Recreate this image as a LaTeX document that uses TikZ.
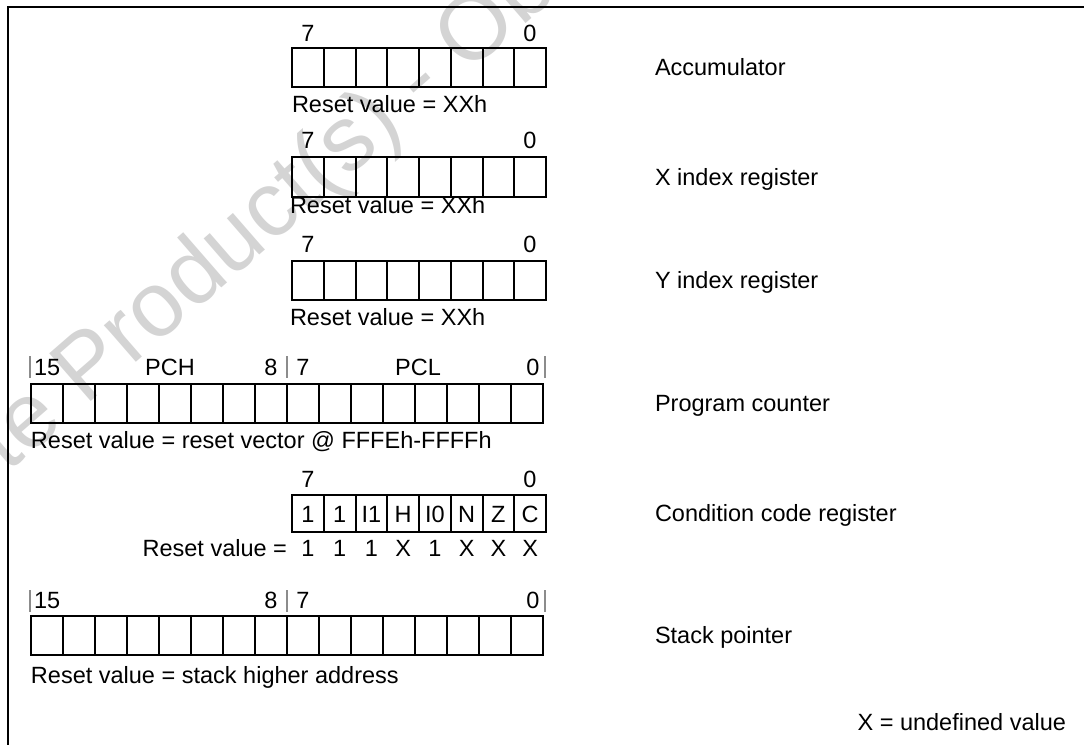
\documentclass[tikz,border=0pt]{standalone}
\usepackage{fontspec}
\setmainfont{Liberation Sans}
\begin{document}
\begin{tikzpicture}[x=0.5pt,y=-0.5pt,
  every node/.style={font=\fontsize{11.75}{14}\selectfont, inner sep=0pt, outer sep=0pt},
  lbl/.style={anchor=base},
  lblw/.style={anchor=base west},
  cellline/.style={draw=black, line width=1pt},
  tick/.style={draw=black!45, line width=0.9pt},
  frameline/.style={draw=black, line width=0.75pt},
  wm/.style={text=black!17, font=\fontsize{46}{50}\selectfont}]
\useasboundingbox (0,0) rectangle (1084,745);
\clip (0,0) rectangle (1084,745);
% watermark
\node[wm, rotate=41, anchor=base west] (wmark) at (-212,665) {Obsolete Product(s) - Obsolete Product(s)};
% frame
\draw[frameline] (8,760) -- (8,7) -- (1100,7);
% ---------- Accumulator
\foreach \i in {0,...,7} \draw[cellline] (292+\i*31.75,48) rectangle ++(31.75,39);
\node[lbl] (acc7) at (308,41.5) {7};
\node[lbl] (acc0) at (530,41.5) {0};
\node[lblw] (accR) at (292,112.5) {Reset value = XXh};
\node[lblw] (accN) at (655,75.5) {Accumulator};
% ---------- X index
\foreach \i in {0,...,7} \draw[cellline] (292+\i*31.75,157) rectangle ++(31.75,40);
\node[lbl] (x7) at (308,148.5) {7};
\node[lbl] (x0) at (530,148.5) {0};
\node[lblw] (xR) at (290,213.5) {Reset value = XXh};
\node[lblw] (xN) at (655,185.5) {X index register};
% ---------- Y index
\foreach \i in {0,...,7} \draw[cellline] (292+\i*31.75,261) rectangle ++(31.75,39);
\node[lbl] (y7) at (308,252.5) {7};
\node[lbl] (y0) at (530,252.5) {0};
\node[lblw] (yR) at (290,325.5) {Reset value = XXh};
\node[lblw] (yN) at (655,288.5) {Y index register};
% ---------- Program counter
\draw[tick] (30,356) -- (30,378);
\draw[tick] (287,356) -- (287,378);
\draw[tick] (545,356) -- (545,378);
\node[lblw] (pc15) at (34,375) {15};
\node[lbl] (pch) at (170,375) {PCH};
\node[lbl] (pc8) at (271,375) {8};
\node[lbl] (pc7) at (303,375) {7};
\node[lbl] (pcl) at (418,375) {PCL};
\node[lbl] (pc0) at (533,375) {0};
\foreach \i in {0,...,15} \draw[cellline] (31+\i*32,384) rectangle ++(32,39);
\node[lblw] (pcR) at (31,448) {Reset value = reset vector @ FFFEh-FFFFh};
\node[lblw] (pcN) at (655,411.5) {Program counter};
% ---------- Condition code register
\node[lbl] (cc7) at (308,487.5) {7};
\node[lbl] (cc0) at (530,487.5) {0};
\foreach \i/\t/\r in {0/1/1,1/1/1,2/I1/1,3/H/X,4/I0/1,5/N/X,6/Z/X,7/C/X}{
  \draw[cellline] (292+\i*31.75,495) rectangle ++(31.75,37);
  \node[lbl] (cc\i) at (307.875+\i*31.75,522) {\t};
  \node[lbl] (ccr\i) at (307.875+\i*31.75,556.5) {\r};
}
\node[anchor=base east] (ccR) at (287,556.5) {Reset value =};
\node[lblw] (ccN) at (655,521.5) {Condition code register};
% ---------- Stack pointer
\draw[tick] (30,590) -- (30,612);
\draw[tick] (287,590) -- (287,612);
\draw[tick] (545,590) -- (545,612);
\node[lblw] (sp15) at (34,608.5) {15};
\node[lbl] (sp8) at (271,608.5) {8};
\node[lbl] (sp7) at (303,608.5) {7};
\node[lbl] (sp0) at (533,608.5) {0};
\foreach \i in {0,...,15} \draw[cellline] (31+\i*32,616) rectangle ++(32,39);
\node[lblw] (spR) at (31,683) {Reset value = stack higher address};
\node[lblw] (spN) at (655,643.5) {Stack pointer};
% ---------- note
\node[anchor=base east] (note) at (1066,730) {X = undefined value};
\end{tikzpicture}
\end{document}
